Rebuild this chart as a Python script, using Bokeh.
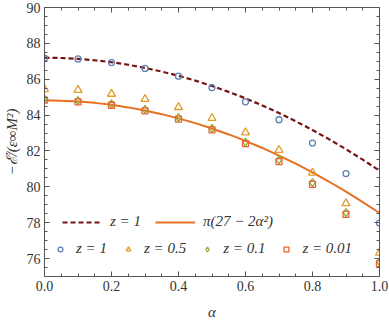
from bokeh.plotting import figure
from bokeh.models import Range1d, LinearAxis, Legend, LegendItem, FixedTicker, PrintfTickFormatter, CustomJSTickFormatter
from bokeh.embed import file_html
from bokeh.resources import INLINE

# ---- data ----
alpha = [0.0, 0.1, 0.2, 0.3, 0.4, 0.5, 0.6, 0.7, 0.8, 0.9, 1.0]
alpha_fine = [0.0, 0.05, 0.1, 0.15, 0.2, 0.25, 0.3, 0.35, 0.4, 0.45, 0.5,
              0.55, 0.6, 0.65, 0.7, 0.75, 0.8, 0.85, 0.9, 0.95, 1.0]
curve_z1 = [87.200, 87.184, 87.137, 87.058, 86.948, 86.806, 86.633, 86.428, 86.192, 85.924, 85.625,
            85.294, 84.932, 84.538, 84.113, 83.656, 83.168, 82.648, 82.097, 81.514, 80.900]
curve_pi = [84.823, 84.807, 84.760, 84.682, 84.572, 84.430, 84.257, 84.053, 83.818, 83.551, 83.252,
            82.922, 82.561, 82.168, 81.744, 81.289, 80.802, 80.283, 79.734, 79.152, 78.540]
pts_z1 = [87.18, 87.13, 86.93, 86.60, 86.17, 85.53, 84.74, 83.74, 82.44, 80.74, 77.98]
pts_z05 = [85.44, 85.40, 85.18, 84.89, 84.44, 83.83, 83.03, 82.05, 80.78, 79.08, 76.32]
pts_z01 = [84.89, 84.81, 84.63, 84.32, 83.86, 83.26, 82.49, 81.50, 80.24, 78.56, 75.82]
pts_z001 = [84.83, 84.74, 84.55, 84.24, 83.78, 83.18, 82.41, 81.41, 80.14, 78.46, 75.72]
x_ticks = [0.0, 0.2, 0.4, 0.6, 0.8, 1.0]
y_ticks = [76, 78, 80, 82, 84, 86, 88, 90]

FONT = "Liberation Serif"
AX = "#555555"
TXT = "#333333"

p = figure(width=389, height=322, x_range=Range1d(0, 1), y_range=Range1d(75, 90),
           output_backend="svg", toolbar_location=None,
           min_border_left=42, min_border_right=10, min_border_top=7, min_border_bottom=45)
p.xgrid.visible = False
p.ygrid.visible = False
p.outline_line_color = AX
p.outline_line_width = 1
p.background_fill_color = "white"

xt = FixedTicker(ticks=x_ticks, minor_ticks=[i * 0.05 for i in range(21)])
yt = FixedTicker(ticks=y_ticks, minor_ticks=[75 + i * 0.5 for i in range(31)])

def style(ax):
    ax.axis_line_color = AX
    ax.major_tick_line_color = AX
    ax.minor_tick_line_color = AX
    ax.major_tick_in = 5
    ax.major_tick_out = 0
    ax.minor_tick_in = 3
    ax.minor_tick_out = 0
    ax.major_label_text_font = FONT
    ax.major_label_text_color = TXT
    ax.major_label_text_font_size = "14px"
    ax.axis_label_text_font = FONT
    ax.axis_label_text_color = TXT
    ax.axis_label_text_font_size = "15px"
    ax.axis_label_text_font_style = "italic"

xa = p.xaxis[0]
xa.ticker = xt
xa.formatter = PrintfTickFormatter(format="%.1f")
style(xa)
xa.major_label_standoff = 4
xa.axis_label = "α"
xa.axis_label_standoff = 10

ya = p.yaxis[0]
ya.ticker = yt
style(ya)
ya.major_label_standoff = 4
ya.axis_label = "−ℰ̇/(ε∞M²)"
ya.axis_label_standoff = 4

blank = CustomJSTickFormatter(code="return ''")
top = LinearAxis(ticker=xt, formatter=blank)
style(top)
top.major_label_standoff = 0
p.add_layout(top, "above")
right = LinearAxis(ticker=yt, formatter=blank)
style(right)
right.major_label_standoff = 0
p.add_layout(right, "right")

r_dash = p.line(alpha_fine, curve_z1, line_color="#761313", line_width=2.2, line_dash="5 3")
r_pi = p.line(alpha_fine, curve_pi, line_color="#E5701F", line_width=2)

r_c = p.scatter(alpha, pts_z1, marker="circle", size=6, fill_alpha=0,
                line_color="#5E81B5", line_width=1.3)
r_t = p.scatter(alpha, pts_z05, marker="triangle", size=8, fill_alpha=0,
                line_color="#E19C24", line_width=1.3)
r_d = p.scatter(alpha, pts_z01, marker="diamond", size=8, fill_alpha=0,
                line_color="#8FB032", line_width=1.3)
r_s = p.scatter(alpha, pts_z001, marker="square", size=6, fill_alpha=0,
                line_color="#EB6235", line_width=1.3)

def mk_legend(items, loc, gw, standoff, spacing):
    lg = Legend(items=items, orientation="horizontal", location=loc,
                glyph_width=gw, glyph_height=14, label_standoff=standoff, spacing=spacing,
                padding=0, margin=0, background_fill_alpha=0, border_line_alpha=0,
                label_text_font=FONT, label_text_font_size="15px",
                label_text_font_style="italic", label_text_color=TXT)
    return lg

leg1 = mk_legend([LegendItem(label="z = 1", renderers=[r_dash]),
                  LegendItem(label="π(27 − 2α²)", renderers=[r_pi])],
                 (18, 46), 40, 8, 14)
leg2 = mk_legend([LegendItem(label="z = 1", renderers=[r_c]),
                  LegendItem(label="z = 0.5", renderers=[r_t]),
                  LegendItem(label="z = 0.1", renderers=[r_d]),
                  LegendItem(label="z = 0.01", renderers=[r_s])],
                 (10, 19), 12, 10, 15)
p.add_layout(leg1)
p.add_layout(leg2)

open("out.html", "w").write(file_html(p, INLINE))
